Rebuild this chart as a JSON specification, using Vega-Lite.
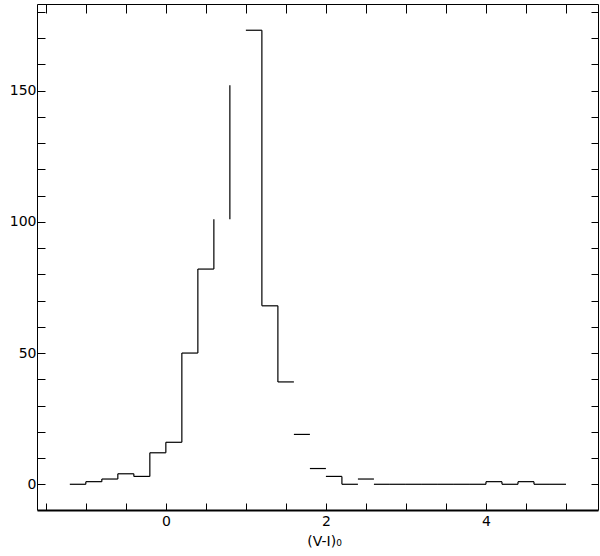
{
  "$schema": "https://vega.github.io/schema/vega-lite/v6.json",
  "width": 561,
  "height": 506,
  "autosize": {"type": "none"},
  "padding": {"left": 37, "top": 4, "right": 2, "bottom": 46},
  "background": "white",
  "config": {
    "view": {"stroke": null},
    "axis": {
      "grid": false,
      "domainColor": "black",
      "domainWidth": 1,
      "tickColor": "black",
      "tickWidth": 1,
      "labelColor": "black",
      "labelFont": "DejaVu Sans",
      "labelFontSize": 14,
      "labelOverlap": false,
      "labelFlush": false,
      "titleFont": "DejaVu Sans",
      "titleFontSize": 14,
      "titleFontWeight": "normal",
      "titleColor": "black"
    }
  },
  "datasets": {
    "bins": [
      {"lo": -1.2, "hi": -1.0, "n": 0, "drawn": true},
      {"lo": -1.0, "hi": -0.8, "n": 1, "drawn": true},
      {"lo": -0.8, "hi": -0.6, "n": 2, "drawn": true},
      {"lo": -0.6, "hi": -0.4, "n": 4, "drawn": true},
      {"lo": -0.4, "hi": -0.2, "n": 3, "drawn": true},
      {"lo": -0.2, "hi": 0.0, "n": 12, "drawn": true},
      {"lo": 0.0, "hi": 0.2, "n": 16, "drawn": true},
      {"lo": 0.2, "hi": 0.4, "n": 50, "drawn": true},
      {"lo": 0.4, "hi": 0.6, "n": 82, "drawn": true},
      {"lo": 0.6, "hi": 0.8, "n": 101, "drawn": false},
      {"lo": 0.8, "hi": 1.0, "n": 152, "drawn": false},
      {"lo": 1.0, "hi": 1.2, "n": 173, "drawn": true},
      {"lo": 1.2, "hi": 1.4, "n": 68, "drawn": true},
      {"lo": 1.4, "hi": 1.6, "n": 39, "drawn": true},
      {"lo": 1.6, "hi": 1.8, "n": 19, "drawn": true},
      {"lo": 1.8, "hi": 2.0, "n": 6, "drawn": true},
      {"lo": 2.0, "hi": 2.2, "n": 3, "drawn": true},
      {"lo": 2.2, "hi": 2.4, "n": 0, "drawn": true},
      {"lo": 2.4, "hi": 2.6, "n": 2, "drawn": true},
      {"lo": 2.6, "hi": 2.8, "n": 0, "drawn": true},
      {"lo": 2.8, "hi": 3.0, "n": 0, "drawn": true},
      {"lo": 3.0, "hi": 3.2, "n": 0, "drawn": true},
      {"lo": 3.2, "hi": 3.4, "n": 0, "drawn": true},
      {"lo": 3.4, "hi": 3.6, "n": 0, "drawn": true},
      {"lo": 3.6, "hi": 3.8, "n": 0, "drawn": true},
      {"lo": 3.8, "hi": 4.0, "n": 0, "drawn": true},
      {"lo": 4.0, "hi": 4.2, "n": 1, "drawn": true},
      {"lo": 4.2, "hi": 4.4, "n": 0, "drawn": true},
      {"lo": 4.4, "hi": 4.6, "n": 1, "drawn": true},
      {"lo": 4.6, "hi": 4.8, "n": 0, "drawn": true},
      {"lo": 4.8, "hi": 5.0, "n": 0, "drawn": true}
    ],
    "edges": [
      {"at": -1.0, "a": 0, "b": 1},
      {"at": -0.8, "a": 1, "b": 2},
      {"at": -0.6, "a": 2, "b": 4},
      {"at": -0.4, "a": 4, "b": 3},
      {"at": -0.2, "a": 3, "b": 12},
      {"at": 0.0, "a": 12, "b": 16},
      {"at": 0.2, "a": 16, "b": 50},
      {"at": 0.4, "a": 50, "b": 82},
      {"at": 0.6, "a": 82, "b": 101},
      {"at": 0.8, "a": 101, "b": 152},
      {"at": 1.2, "a": 173, "b": 68},
      {"at": 1.4, "a": 68, "b": 39},
      {"at": 2.2, "a": 3, "b": 0},
      {"at": 4.0, "a": 0, "b": 1},
      {"at": 4.2, "a": 1, "b": 0},
      {"at": 4.4, "a": 0, "b": 1},
      {"at": 4.6, "a": 1, "b": 0}
    ]
  },
  "layer": [
    {
      "data": {"name": "bins"},
      "transform": [{"filter": "datum.drawn"}],
      "mark": {"type": "rule", "color": "black", "strokeWidth": 1.2},
      "encoding": {
        "x": {
          "field": "lo",
          "type": "quantitative",
          "scale": {"domain": [-1.61, 5.4], "nice": false, "zero": false},
          "axis": {
            "orient": "bottom",
            "values": [-1.5, -1, -0.5, 0, 0.5, 1, 1.5, 2, 2.5, 3, 3.5, 4, 4.5, 5],
            "labelExpr": "datum.value % 2 === 0 ? format(datum.value, 'd') : ''",
            "tickSize": -7,
            "domainWidth": 2,
            "labelPadding": 11,
            "title": "(V-I)₀",
            "titleX": 287,
            "titleY": 35,
            "titleBaseline": "alphabetic"
          }
        },
        "x2": {"field": "hi"},
        "y": {
          "field": "n",
          "type": "quantitative",
          "scale": {"domain": [-9.8, 183], "nice": false, "zero": false},
          "axis": {
            "orient": "left",
            "values": [0, 10, 20, 30, 40, 50, 60, 70, 80, 90, 100, 110, 120, 130, 140, 150, 160, 170, 180],
            "labelExpr": "datum.value % 50 === 0 ? datum.label : ''",
            "tickSize": -8,
            "labelPadding": 9,
            "title": null
          }
        }
      }
    },
    {
      "data": {"name": "edges"},
      "mark": {"type": "rule", "color": "black", "strokeWidth": 1.2},
      "encoding": {
        "x": {
          "field": "at",
          "type": "quantitative",
          "scale": {"domain": [-1.61, 5.4], "nice": false, "zero": false},
          "axis": {
            "orient": "top",
            "values": [-1.5, -1, -0.5, 0, 0.5, 1, 1.5, 2, 2.5, 3, 3.5, 4, 4.5, 5],
            "labels": false,
            "tickSize": -9,
            "title": null
          }
        },
        "y": {
          "field": "a",
          "type": "quantitative",
          "scale": {"domain": [-9.8, 183], "nice": false, "zero": false},
          "axis": {
            "orient": "right",
            "values": [0, 10, 20, 30, 40, 50, 60, 70, 80, 90, 100, 110, 120, 130, 140, 150, 160, 170, 180],
            "labels": false,
            "tickSize": -7,
            "title": null
          }
        },
        "y2": {"field": "b"}
      }
    }
  ]
}
